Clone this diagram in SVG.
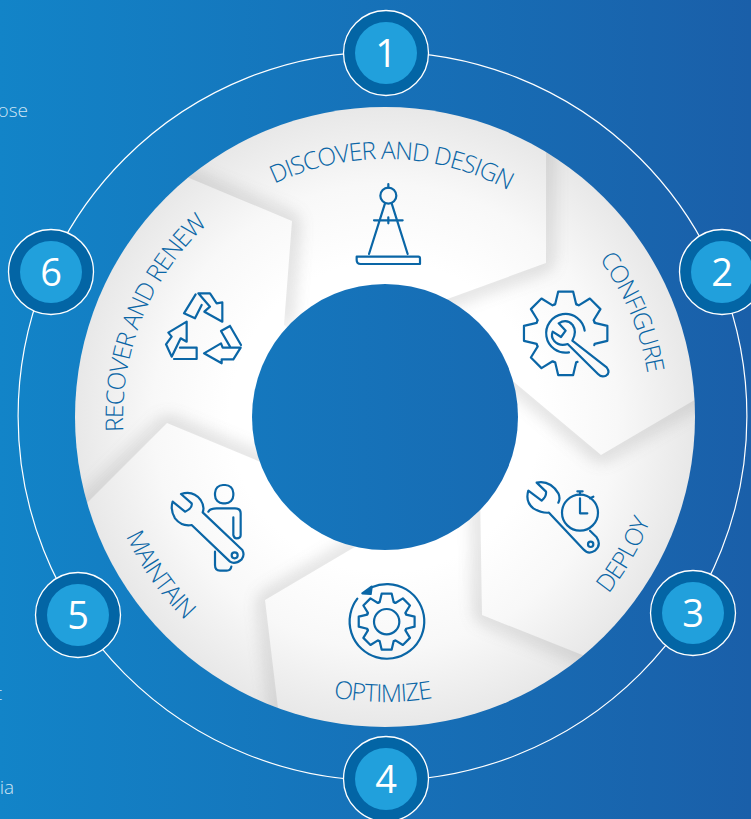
<svg xmlns="http://www.w3.org/2000/svg" xmlns:xlink="http://www.w3.org/1999/xlink" width="751" height="819" viewBox="0 0 751 819">
<style>
.lbl{font-family:"Open Sans","Liberation Sans",sans-serif;font-size:24.5px;font-weight:300;font-stretch:90%;letter-spacing:-1px;fill:#0a66a6;text-anchor:middle}
.num{font-family:"Open Sans","Liberation Sans",sans-serif;font-size:38px;font-weight:400;fill:#fff;text-anchor:middle}
.stray{font-family:"Open Sans","Liberation Sans",sans-serif;font-size:19px;font-weight:300;fill:#cfe5f4;text-anchor:end}
.ic{fill:none;stroke:#0a66a6;stroke-width:6.6;stroke-linejoin:round;stroke-linecap:round}
.sh{fill:none;stroke:#777;stroke-width:9;filter:url(#blur);opacity:.42;stroke-linejoin:round}
.ring{fill:#0365a5;stroke:#fff;stroke-width:1.3}
.core{fill:#21a0dc}
</style>
<defs>
<linearGradient id="bg" gradientUnits="userSpaceOnUse" x1="0" y1="0" x2="751" y2="0"><stop offset="0" stop-color="#1284c8"/><stop offset="1" stop-color="#1a5fa9"/></linearGradient>
<radialGradient id="seg" gradientUnits="userSpaceOnUse" cx="385" cy="417" r="310"><stop offset=".5" stop-color="#fff"/><stop offset=".75" stop-color="#f8f8f8"/><stop offset="1" stop-color="#e8e8e8"/></radialGradient>
<filter id="blur" x="-30%" y="-30%" width="160%" height="160%"><feGaussianBlur stdDeviation="9"/></filter>
<clipPath id="disc"><circle cx="385" cy="417" r="310"/></clipPath>
<clipPath id="c1"><polygon points="385,417 284,325 292,221 170,170 385,60 546,60 546,263 420,309"/></clipPath>
<clipPath id="c2"><polygon points="385,417 420,309 546,263 546,60 800,200 710,391 601,455 490,362"/></clipPath>
<clipPath id="c3"><polygon points="385,417 490,362 601,455 710,391 720,700 600,662 482,615 480,490"/></clipPath>
<clipPath id="c4"><polygon points="385,417 480,490 482,615 600,662 400,800 280,725 265,600 375,535"/></clipPath>
<clipPath id="c5"><polygon points="385,417 375,535 265,600 280,725 50,600 70,520 167,423 280,470"/></clipPath>
<clipPath id="c6"><polygon points="385,417 280,470 167,423 70,520 40,300 170,170 292,221 284,325"/></clipPath>
<path id="p258" d="M127,417A258,258 0 0 1 643,417"/>
<path id="p266" d="M119,417A266,266 0 0 1 651,417"/>
<path id="p262" d="M123,417A262,262 0 0 1 647,417"/>
<path id="p285" d="M100,417A285,285 0 0 0 670,417"/>
<path id="t" d="M-11.9,-28.6L-10.5,-29L-7.5,-41.7H7.5L10.5,-29L11.9,-28.6"/>
</defs>
<rect width="751" height="819" fill="url(#bg)"/>
<text class="stray" x="28" y="117">ose</text>
<text class="stray" x="2" y="700">t</text>
<text class="stray" x="14" y="794">ia</text>
<g id="connectors"><circle cx="382.5" cy="416.2" r="364.4" fill="none" stroke="#fff" stroke-width="1.2"/></g>
<circle id="disc-base" cx="385" cy="417" r="310" fill="url(#seg)"/>
<g clip-path="url(#disc)">
<g id="seg1" clip-path="url(#c1)"><path class="sh" d="M170,170L292,221L284,325"/></g>
<g id="seg2" clip-path="url(#c2)"><path class="sh" d="M546,100V263L420,309"/></g>
<g id="seg3" clip-path="url(#c3)"><path class="sh" d="M710,391L601,455L490,362"/></g>
<g id="seg4" clip-path="url(#c4)"><path class="sh" d="M600,662L482,615L480,490"/></g>
<g id="seg5" clip-path="url(#c5)"><path class="sh" d="M280,725L265,600L375,535"/></g>
<g id="seg6" clip-path="url(#c6)"><path class="sh" d="M70,520L167,423L280,470"/></g>
</g>
<circle id="hub" cx="385" cy="417" r="133" fill="url(#bg)"/>
<g id="label1"><text class="lbl" transform="rotate(1.5 385 417)"><textPath href="#p258" startOffset="50%">DISCOVER AND DESIGN</textPath></text></g>
<g id="label2"><text class="lbl" transform="rotate(67 385 417)"><textPath href="#p266" startOffset="50%">CONFIGURE</textPath></text></g>
<g id="label3"><text class="lbl" transform="rotate(-60 385 417)"><textPath href="#p285" startOffset="50%">DEPLOY</textPath></text></g>
<g id="label4"><text class="lbl" transform="rotate(.5 385 417)"><textPath href="#p285" startOffset="50%">OPTIMIZE</textPath></text></g>
<g id="label5"><text class="lbl" transform="rotate(55 385 417)"><textPath href="#p285" startOffset="50%">MAINTAIN</textPath></text></g>
<g id="label6"><text class="lbl" transform="rotate(-68 385 417)"><textPath href="#p262" startOffset="50%">RECOVER AND RENEW</textPath></text></g>
<g id="icon1" class="ic" transform="translate(250 100) scale(.33333)">
<circle cx="415" cy="287" r="24"/><path d="M415,252V263M405,310L357,462M425,310L473,462M372,361H458M415,352V370"/>
<path d="M320,470H505Q510,470 510,476V492H332Q320,492 320,480Z"/>
</g>
<g id="icon2" class="ic" transform="translate(500 230) scale(.33333)">
<g transform="translate(197 310) scale(3)" style="stroke-width:2.2"><use href="#t"/><use href="#t" transform="rotate(45)"/><use href="#t" transform="rotate(90)"/><use href="#t" transform="rotate(180)"/><use href="#t" transform="rotate(225)"/><use href="#t" transform="rotate(270)"/><use href="#t" transform="rotate(315)"/></g>
<path d="M207,367A58,58 0 1 1 254,302"/>
<path d="M158,305L183,321L197,302L176,280Q200,265 218,285Q232,305 217,332L320,412Q332,428 318,437Q304,443 294,432L203,342Q178,350 162,332Q152,320 158,305Z"/>
</g>
<g id="icon3" class="ic" transform="translate(500 460) scale(.33333)">
<path d="M175,128Q182,115 175,100Q150,60 110,68L138,95Q140,110 125,122L85,92Q75,125 100,145Q125,160 147,158L250,268Q265,285 285,272Q305,255 290,232L270,212"/>
<circle cx="272" cy="253" r="8"/><circle cx="240" cy="158" r="54"/>
<path d="M240,115V160H262M240,95V104M232,94H248M270,115L280,110"/>
</g>
<g id="icon4" class="ic" transform="translate(320 570) scale(.33333)">
<path d="M155,52A112,112 0 1 1 112,86"/>
<path d="M127,70L155,50L152,72Z" fill="#0a66a6"/>
<circle cx="200" cy="155" r="38"/>
<g transform="translate(200 155) scale(2.01)" style="stroke-width:3.3"><use href="#t"/><use href="#t" transform="rotate(45)"/><use href="#t" transform="rotate(90)"/><use href="#t" transform="rotate(135)"/><use href="#t" transform="rotate(180)"/><use href="#t" transform="rotate(225)"/><use href="#t" transform="rotate(270)"/><use href="#t" transform="rotate(315)"/></g>
</g>
<g id="icon5" class="ic" transform="translate(110 470) scale(.33333)">
<path d="M213,72Q250,60 272,90Q285,110 278,127L397,240Q405,255 395,268Q375,285 360,275L245,165Q215,170 195,145Q180,120 188,95L225,125Q248,115 245,100Z"/>
<circle cx="374" cy="256" r="9"/><rect x="315" y="45" width="55" height="55" rx="24"/>
<path d="M295,125Q300,115 320,115H375Q392,115 392,130V195Q392,205 380,205Q372,205 370,195V142M315,245V285Q315,302 330,302H350Q362,302 364,290"/>
</g>
<g id="icon6" class="ic" transform="translate(90 200) scale(.33333)">
<path d="M325,280H360L380,310L397,307V365L343,335L360,320Z"/>
<path d="M317,283L282,340L315,355L335,315"/>
<path d="M420,378L393,393L420,440M420,378L453,435"/>
<path d="M452,443L430,478H395V490L342,460L393,430L398,443Z"/>
<path d="M290,365V425L272,415L245,470L228,433L245,410L235,398Z"/>
<path d="M270,443H320V477H252"/>
</g>
<g id="badge1"><circle class="ring" cx="386" cy="53" r="42.5"/><circle class="core" cx="386" cy="53" r="31"/><text class="num" x="386" y="67">1</text></g>
<g id="badge2"><circle class="ring" cx="722" cy="272" r="42.5"/><circle class="core" cx="722" cy="272" r="31"/><text class="num" x="722" y="286">2</text></g>
<g id="badge3"><circle class="ring" cx="693" cy="613" r="42.5"/><circle class="core" cx="693" cy="613" r="31"/><text class="num" x="693" y="627">3</text></g>
<g id="badge4"><circle class="ring" cx="386" cy="779" r="42.5"/><circle class="core" cx="386" cy="779" r="31"/><text class="num" x="386" y="793">4</text></g>
<g id="badge5"><circle class="ring" cx="78" cy="615" r="42.5"/><circle class="core" cx="78" cy="615" r="31"/><text class="num" x="78" y="629">5</text></g>
<g id="badge6"><circle class="ring" cx="51" cy="272" r="42.5"/><circle class="core" cx="51" cy="272" r="31"/><text class="num" x="51" y="286">6</text></g>
</svg>
